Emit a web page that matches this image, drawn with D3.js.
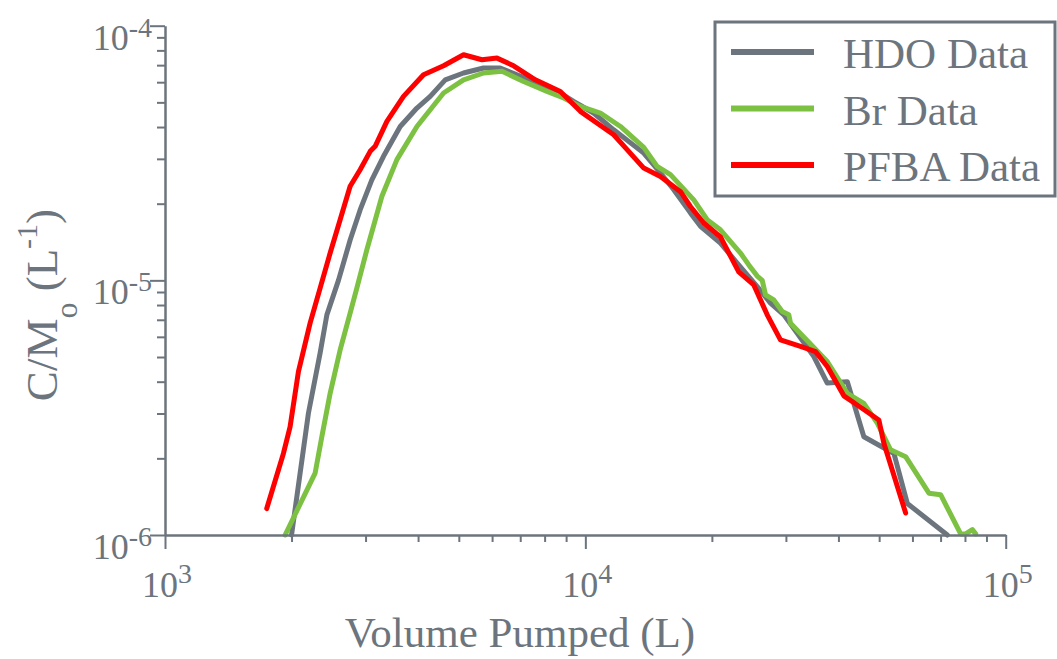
<!DOCTYPE html>
<html>
<head>
<meta charset="utf-8">
<script src="https://cdn.jsdelivr.net/npm/d3@7"></script>
<style>
  html, body { margin: 0; padding: 0; background: #ffffff; }
  svg { display: block; }
  text { font-family: "Liberation Serif", "Times New Roman", serif; fill: #6c757d; }
</style>
</head>
<body>
<svg id="chart" width="1057" height="659"></svg>
<script>
// ---------- Data ----------
const hdoVolume = [2000, 2194, 2339, 2427, 2586, 2757, 2912, 3105, 3310, 3627, 3975, 4275, 4642, 5131, 5726, 6275, 6877, 7674, 8719, 9378, 10460, 11680, 13770, 15090, 16230, 17780, 18790, 20960, 22970, 25640, 27570, 29660, 31920, 34960, 37630, 42000, 45980, 54200, 58340, 72640];
const hdoConc   = [1.0e-6, 3.01e-6, 5.18e-6, 7.32e-6, 1.00e-5, 1.44e-5, 1.89e-5, 2.48e-5, 3.07e-5, 4.02e-5, 4.75e-5, 5.28e-5, 6.13e-5, 6.52e-5, 6.82e-5, 6.82e-5, 6.42e-5, 5.96e-5, 5.44e-5, 5.04e-5, 4.54e-5, 3.90e-5, 3.16e-5, 2.64e-5, 2.27e-5, 1.84e-5, 1.63e-5, 1.40e-5, 1.17e-5, 9.45e-6, 8.14e-6, 7.32e-6, 6.20e-6, 5.02e-6, 3.95e-6, 4.00e-6, 2.43e-6, 2.09e-6, 1.33e-6, 1.0e-6];

const brVolume = [1931, 2276, 2361, 2471, 2610, 2757, 2860, 3022, 3281, 3562, 3975, 4599, 5131, 5726, 6335, 7130, 8106, 8878, 9730, 10860, 12120, 13770, 14820, 15940, 18110, 19490, 20960, 23390, 24480, 25640, 26350, 26830, 28070, 29400, 30480, 30770, 37630, 42000, 45980, 49490, 53230, 57810, 65670, 70010, 78140, 80300, 83300, 84830];
const brConc   = [1.0e-6, 1.75e-6, 2.43e-6, 3.60e-6, 5.33e-6, 7.43e-6, 9.32e-6, 1.32e-5, 2.14e-5, 2.98e-5, 4.02e-5, 5.44e-5, 6.13e-5, 6.52e-5, 6.62e-5, 6.04e-5, 5.52e-5, 5.20e-5, 4.82e-5, 4.54e-5, 4.02e-5, 3.33e-5, 2.80e-5, 2.60e-5, 2.07e-5, 1.73e-5, 1.58e-5, 1.28e-5, 1.15e-5, 1.04e-5, 1.00e-5, 8.77e-6, 8.38e-6, 7.54e-6, 7.32e-6, 6.79e-6, 4.80e-6, 3.60e-6, 3.29e-6, 2.75e-6, 2.16e-6, 2.03e-6, 1.46e-6, 1.44e-6, 1.01e-6, 1.01e-6, 1.05e-6, 1.01e-6];

const pfbaVolume = [1746, 1913, 1984, 2077, 2214, 2339, 2471, 2610, 2757, 2912, 3077, 3162, 3372, 3693, 4121, 4599, 5131, 5675, 6163, 6751, 7603, 8719, 9730, 11680, 12570, 13770, 15090, 16840, 17780, 19130, 20960, 23170, 25160, 27080, 29120, 32500, 35290, 37630, 41210, 44360, 49920, 51310, 57810];
const pfbaConc   = [1.27e-6, 2.09e-6, 2.66e-6, 4.38e-6, 6.79e-6, 9.32e-6, 1.28e-5, 1.73e-5, 2.34e-5, 2.72e-5, 3.21e-5, 3.36e-5, 4.21e-5, 5.28e-5, 6.42e-5, 6.96e-5, 7.69e-5, 7.35e-5, 7.46e-5, 6.96e-5, 6.13e-5, 5.52e-5, 4.61e-5, 3.73e-5, 3.26e-5, 2.76e-5, 2.56e-5, 2.23e-5, 1.95e-5, 1.68e-5, 1.48e-5, 1.08e-5, 9.60e-6, 7.32e-6, 5.84e-6, 5.50e-6, 5.25e-6, 4.59e-6, 3.52e-6, 3.24e-6, 2.83e-6, 2.29e-6, 1.22e-6];

const seriesNames = ["HDO Data", "Br Data", "PFBA Data"];
const seriesColors = ["#6c757d", "#7cc142", "#ff0000"];

const xMajorTicks = [1e3, 1e4, 1e5];
const xMajorExp = ["3", "4", "5"];
const xMinorTicks = [2e3, 3e3, 4e3, 5e3, 6e3, 7e3, 8e3, 9e3, 2e4, 3e4, 4e4, 5e4, 6e4, 7e4, 8e4, 9e4];
const yMajorTicks = [1e-6, 1e-5, 1e-4];
const yMajorExp = ["-6", "-5", "-4"];
const yMinorTicks = [2e-6, 3e-6, 4e-6, 5e-6, 6e-6, 7e-6, 8e-6, 9e-6, 2e-5, 3e-5, 4e-5, 5e-5, 6e-5, 7e-5, 8e-5, 9e-5];

// ---------- Layout ----------
const axisColor = "#6c757d";
const svg = d3.select("#chart");
const plot = { left: 165, right: 1005.7, top: 25.7, bottom: 535 };

const x = d3.scaleLog().domain([1e3, 1e5]).range([plot.left, plot.right]);
const y = d3.scaleLog().domain([1e-6, 1e-4]).range([plot.bottom, plot.top]);

const series = [
  { name: seriesNames[0], color: seriesColors[0], xs: hdoVolume, ys: hdoConc },
  { name: seriesNames[1], color: seriesColors[1], xs: brVolume, ys: brConc },
  { name: seriesNames[2], color: seriesColors[2], xs: pfbaVolume, ys: pfbaConc }
];

// ---------- Lines ----------
const line = d3.line().x(d => x(d[0])).y(d => y(d[1]));
const gLines = svg.append("g");
series.forEach(s => {
  gLines.append("path")
    .datum(s.xs.map((v, i) => [v, s.ys[i]]))
    .attr("d", line)
    .attr("fill", "none")
    .attr("stroke", s.color)
    .attr("stroke-width", 5)
    .attr("stroke-linejoin", "round")
    .attr("stroke-linecap", "round");
});

// ---------- Axes ----------
function styleAxis(g) {
  g.selectAll("path.domain").attr("stroke", axisColor).attr("stroke-width", 2.5);
  g.selectAll(".tick line").attr("stroke", axisColor).attr("stroke-width", 2);
  g.selectAll(".tick text").remove();
}

const gx = svg.append("g").attr("transform", `translate(0,${plot.bottom})`);
gx.append("g").call(d3.axisBottom(x).tickValues(xMinorTicks).tickSize(7).tickSizeOuter(0).tickFormat(""))
  .call(styleAxis).select("path.domain").remove();
gx.append("g").call(d3.axisBottom(x).tickValues(xMajorTicks).tickSize(14).tickSizeOuter(0).tickFormat(""))
  .call(styleAxis);

const gy = svg.append("g").attr("transform", `translate(${plot.left},0)`);
gy.append("g").call(d3.axisLeft(y).tickValues(yMinorTicks).tickSize(8).tickSizeOuter(0).tickFormat(""))
  .call(styleAxis).select("path.domain").remove();
gy.append("g").call(d3.axisLeft(y).tickValues(yMajorTicks).tickSize(15).tickSizeOuter(0).tickFormat(""))
  .call(styleAxis);

// tick labels with superscripts
xMajorTicks.forEach((v, i) => {
  const t = svg.append("text")
    .attr("x", x(v) + 2).attr("y", plot.bottom + 62)
    .attr("text-anchor", "middle").attr("font-size", 36);
  t.append("tspan").text("10");
  t.append("tspan").attr("font-size", 28).attr("dy", -14).text(xMajorExp[i]);
});
yMajorTicks.forEach((v, i) => {
  const t = svg.append("text")
    .attr("x", plot.left - 13).attr("y", y(v) + 24)
    .attr("text-anchor", "end").attr("font-size", 36);
  t.append("tspan").text("10");
  t.append("tspan").attr("font-size", 28).attr("dy", -13).text(yMajorExp[i]);
});

// axis titles
svg.append("text")
  .attr("x", 520).attr("y", 647)
  .attr("text-anchor", "middle").attr("font-size", 43)
  .text("Volume Pumped (L)");

const yt = svg.append("text")
  .attr("transform", "translate(57,305) rotate(-90)")
  .attr("text-anchor", "middle").attr("font-size", 45);
yt.append("tspan").text("C/M");
yt.append("tspan").attr("font-size", 32).attr("dy", 20).text("o");
yt.append("tspan").attr("dy", -20).text(" (L");
yt.append("tspan").attr("font-size", 30).attr("dy", -20).text("-1");
yt.append("tspan").attr("dy", 20).text(")");

// ---------- Legend ----------
const legend = svg.append("g");
legend.append("rect")
  .attr("x", 715).attr("y", 22).attr("width", 340).attr("height", 174)
  .attr("fill", "#ffffff").attr("stroke", axisColor).attr("stroke-width", 3);
series.forEach((s, i) => {
  const ly = 52 + i * 56.5;
  legend.append("line")
    .attr("x1", 731).attr("x2", 814).attr("y1", ly).attr("y2", ly)
    .attr("stroke", s.color).attr("stroke-width", 6);
  legend.append("text")
    .attr("x", 843).attr("y", ly + 16)
    .attr("font-size", 43)
    .text(s.name);
});
</script>
</body>
</html>
